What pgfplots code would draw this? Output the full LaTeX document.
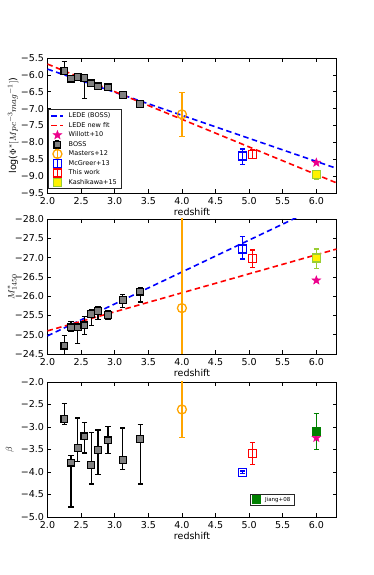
\documentclass[border=0pt]{standalone}
\usepackage{fontspec}
\setmainfont{DejaVu Sans}
\usepackage{pgfplots}
\usepackage{pgfplotstable}
\pgfplotsset{compat=1.18}
\usetikzlibrary{plotmarks}

\definecolor{mplorange}{RGB}{255,165,0}
\definecolor{ygreen}{RGB}{154,205,50}
\definecolor{mplgreen}{RGB}{0,128,0}
\definecolor{bossgray}{RGB}{128,128,128}
\definecolor{mplblue}{RGB}{0,0,255}

\pgfdeclareplotmark{fstar}{%
  \pgfpathmoveto{\pgfpointpolar{90}{\pgfplotmarksize}}%
  \pgfpathlineto{\pgfpointpolar{126}{0.42\pgfplotmarksize}}%
  \pgfpathlineto{\pgfpointpolar{162}{\pgfplotmarksize}}%
  \pgfpathlineto{\pgfpointpolar{198}{0.42\pgfplotmarksize}}%
  \pgfpathlineto{\pgfpointpolar{234}{\pgfplotmarksize}}%
  \pgfpathlineto{\pgfpointpolar{270}{0.42\pgfplotmarksize}}%
  \pgfpathlineto{\pgfpointpolar{306}{\pgfplotmarksize}}%
  \pgfpathlineto{\pgfpointpolar{342}{0.42\pgfplotmarksize}}%
  \pgfpathlineto{\pgfpointpolar{18}{\pgfplotmarksize}}%
  \pgfpathlineto{\pgfpointpolar{54}{0.42\pgfplotmarksize}}%
  \pgfpathclose
  \pgfusepathqfillstroke}

% BOSS data: x, value, error towards larger value (ep), towards smaller value (em)
\pgfplotstableread{
x y ep em
2.25 -5.88 0.27 0.05
2.35 -6.11 0.03 0.03
2.45 -6.07 0.02 0.02
2.55 -6.09 0.04 0.61
2.65 -6.25 0.02 0.02
2.75 -6.34 0.02 0.02
2.90 -6.37 0.02 0.02
3.12 -6.60 0.04 0.04
3.38 -6.87 0.02 0.02
}\bossphi

\pgfplotstableread{
x y ep em
2.25 -24.72 0.30 0.26
2.35 -25.19 0.09 0.16
2.45 -25.19 0.41 0.08
2.55 -25.24 0.23 0.24
2.65 -25.54 0.31 0.10
2.75 -25.61 0.21 0.12
2.90 -25.51 0.12 0.11
3.12 -25.90 0.20 0.14
3.38 -26.12 0.27 0.10
}\bossmag

\pgfplotstableread{
x y ep em
2.25 -2.82 0.34 0.13
2.35 -3.79 0.15 0.99
2.45 -3.47 0.67 0.29
2.55 -3.21 0.31 0.37
2.65 -3.84 0.72 0.43
2.75 -3.51 0.44 0.55
2.90 -3.30 0.31 0.29
3.12 -3.74 0.72 0.20
3.38 -3.27 0.32 1.00
}\bossbeta

\pgfplotsset{
  panel/.style={
    width=289pt, height=135pt, scale only axis,
    anchor=south west,
    xmin=2, xmax=6.3,
    xtick={2,2.5,3,3.5,4,4.5,5,5.5,6},
    xticklabels={2.0,2.5,3.0,3.5,4.0,4.5,5.0,5.5,6.0},
    tick label style={font=\fontsize{9.5}{11}\selectfont},
    xticklabel style={yshift=-0.8pt},
    label style={font=\fontsize{9.5}{11}\selectfont},
    xlabel={redshift},
    xlabel style={at={(axis description cs:0.5,-0.085)}, anchor=north},
    axis line style={line width=0.6pt},
    major tick length=4pt,
    tick style={line width=0.5pt, black},
    legend cell align=left,
    legend image code/.code={\draw[mark repeat=2,mark phase=2,##1] plot coordinates {(0cm,0cm) (0.21cm,0cm) (0.42cm,0cm)};},
  },
  dashline/.style={dash pattern=on 5.5pt off 3.5pt, line width=1.6pt},
  eb/.style={error bars/y dir=both, error bars/y explicit,
    error bars/error bar style={line width=1.3pt, solid, #1},
    error bars/error mark options={rotate=90, line width=1.3pt, mark size=2.6pt, solid, #1}},
  errleg/.style={legend image code/.code={%
    \draw[#1, line width=1pt] (0.21cm,-4pt) -- (0.21cm,4pt) (0.21cm-2pt,4pt) -- (0.21cm+2pt,4pt) (0.21cm-2pt,-4pt) -- (0.21cm+2pt,-4pt);
    \draw[mark repeat=2,mark phase=2,##1] plot coordinates {(0cm,0cm) (0.21cm,0cm) (0.42cm,0cm)};}},
}

\begin{document}
\begin{tikzpicture}
\useasboundingbox (0,0) rectangle (374pt,575pt);

% ---------- top panel ----------
\begin{axis}[panel, at={(47.5pt,382pt)},
  ymin=-9.5, ymax=-5.5,
  ytick={-9.5,-9,-8.5,-8,-7.5,-7,-6.5,-6,-5.5},
  yticklabels={−9.5,−9.0,−8.5,−8.0,−7.5,−7.0,−6.5,−6.0,−5.5},
  ylabel={log($\Phi^*[Mpc^{-3}mag^{-1}]$)},
  ylabel style={at={(axis description cs:-0.119,0.5)}, anchor=center},
  legend style={at={(0.003,0.03)}, anchor=south west, font=\fontsize{6.5}{7.5}\selectfont,
    draw=black!85, line width=0.6pt, inner xsep=2pt, inner ysep=1pt, row sep=-0.9pt, column sep=2.5pt},
]
\addplot[color=mplblue, dashline] coordinates {(2,-5.83) (6.3,-8.77)};
\addlegendentry{LEDE (BOSS)}
\addplot[color=red, dashline] coordinates {(2,-5.68) (6.3,-9.2)};
\addlegendentry{LEDE new fit}
\addplot[only marks, mark=fstar, mark size=4.5pt, draw=magenta, fill=magenta, line width=0.5pt] coordinates {(6,-8.6)};
\addlegendentry{Willott+10}
\addplot[only marks, mark=square*, mark size=3.4pt, draw=black, fill=bossgray, line width=1.2pt, eb=black, errleg=black]
  table[x=x, y=y, y error plus=ep, y error minus=em] {\bossphi};
\addlegendentry{BOSS}
\addplot[only marks, mark=o, mark size=4.5pt, draw=mplorange, line width=1.3pt, eb=mplorange, errleg=mplorange]
  coordinates {(4.0,-7.17) += (0,0.64) -= (0,0.65)};
\addlegendentry{Masters+12}
\addplot[only marks, mark=square, mark size=4pt, draw=mplblue, line width=1.3pt, eb=mplblue, errleg=mplblue]
  coordinates {(4.9,-8.40) += (0,0.20) -= (0,0.25)};
\addlegendentry{McGreer+13}
\addplot[only marks, mark=square, mark size=4pt, draw=red, line width=1.3pt, eb=red, errleg=red]
  coordinates {(5.05,-8.35) += (0,0.12) -= (0,0.12)};
\addlegendentry{This work}
\addplot[only marks, mark=square*, mark size=4pt, draw=ygreen, fill=yellow, line width=1.3pt, eb=ygreen, errleg=ygreen]
  coordinates {(6.0,-8.96) += (0,0.10) -= (0,0.14)};
\addlegendentry{Kashikawa+15}
\end{axis}

% ---------- middle panel ----------
\begin{axis}[panel, at={(47.5pt,221pt)},
  y dir=reverse,
  ymin=-28, ymax=-24.5,
  ytick={-28,-27.5,-27,-26.5,-26,-25.5,-25,-24.5},
  yticklabels={−28.0,−27.5,−27.0,−26.5,−26.0,−25.5,−25.0,−24.5},
  ylabel={$M^*_{1450}$},
  ylabel style={at={(axis description cs:-0.123,0.5)}, anchor=center},
]
\addplot[color=mplblue, dashline] coordinates {(2,-24.97) (6.3,-28.53)};
\addplot[color=red, dashline] coordinates {(2,-25.10) (6.3,-27.22)};
\addplot[only marks, mark=fstar, mark size=4.5pt, draw=magenta, fill=magenta, line width=0.5pt] coordinates {(6,-26.41)};
\addplot[only marks, mark=square*, mark size=3.4pt, draw=black, fill=bossgray, line width=1.2pt, eb=black]
  table[x=x, y=y, y error plus=ep, y error minus=em] {\bossmag};
\addplot[only marks, mark=o, mark size=4.5pt, draw=mplorange, line width=1.3pt, eb=mplorange]
  coordinates {(4.0,-25.69) += (0,5) -= (0,5)};
\addplot[only marks, mark=square, mark size=4pt, draw=mplblue, line width=1.3pt, eb=mplblue]
  coordinates {(4.9,-27.22) += (0,0.26) -= (0,0.33)};
\addplot[only marks, mark=square, mark size=4pt, draw=red, line width=1.3pt, eb=red]
  coordinates {(5.05,-26.97) += (0,0.22) -= (0,0.23)};
\addplot[only marks, mark=square*, mark size=4pt, draw=ygreen, fill=yellow, line width=1.3pt, eb=ygreen]
  coordinates {(6.0,-26.99) += (0,0.27) -= (0,0.23)};
\end{axis}

% ---------- bottom panel ----------
\begin{axis}[panel, at={(47.5pt,58pt)},
  ymin=-5, ymax=-2,
  ytick={-5,-4.5,-4,-3.5,-3,-2.5,-2},
  yticklabels={−5.0,−4.5,−4.0,−3.5,−3.0,−2.5,−2.0},
  ylabel={$\beta$},
  ylabel style={at={(axis description cs:-0.13,0.5)}, anchor=center},
  legend style={at={(0.70,0.085)}, anchor=south west, font=\fontsize{5.5}{6.5}\selectfont,
    draw=black!85, line width=0.8pt, inner xsep=2pt, inner ysep=0.5pt, column sep=3pt},
]
\addplot[only marks, mark=square*, mark size=3.4pt, draw=black, fill=bossgray, line width=1.2pt, eb=black, forget plot]
  table[x=x, y=y, y error plus=ep, y error minus=em] {\bossbeta};
\addplot[only marks, mark=o, mark size=4.5pt, draw=mplorange, line width=1.3pt, eb=mplorange, forget plot]
  coordinates {(4.0,-2.61) += (0,0.8) -= (0,0.62)};
\addplot[only marks, mark=square, mark size=4pt, draw=mplblue, line width=1.3pt, eb=mplblue, forget plot]
  coordinates {(4.9,-4.01) += (0,0.03) -= (0,0.03)};
\addplot[only marks, mark=square, mark size=4pt, draw=red, line width=1.3pt, eb=red, forget plot]
  coordinates {(5.05,-3.59) += (0,0.24) -= (0,0.24)};
\addplot[only marks, mark=fstar, mark size=4.5pt, draw=magenta, fill=magenta, line width=0.5pt, forget plot] coordinates {(6,-3.24)};
\addplot[only marks, mark=square*, mark size=4pt, draw=mplgreen, fill=mplgreen, line width=1pt, eb=mplgreen]
  coordinates {(6.0,-3.11) += (0,0.41) -= (0,0.39)};
\addlegendentry{Jiang+08}
\end{axis}
\end{tikzpicture}
\end{document}
